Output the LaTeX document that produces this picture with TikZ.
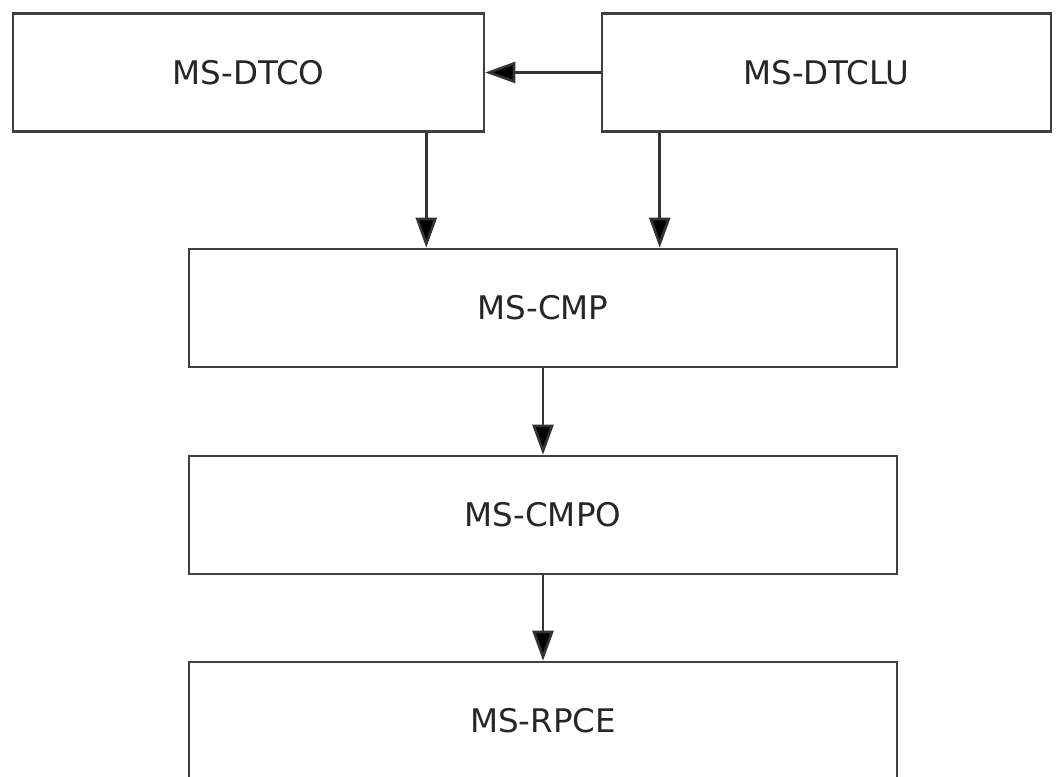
\documentclass[tikz,border=0pt]{standalone}
\usepackage{fontspec}
\setmainfont{DejaVu Sans}
\usetikzlibrary{arrows.meta}

\tikzset{
	proto/.style = {draw = black!75, line width = 1.5pt, fill = white, minimum height = 2.36cm, text = black!85, font = \fontsize{18.5}{22}\selectfont},
	dep/.style = {draw = black!80, line width = 1.5pt, -{Triangle[length = .6cm, width = .42cm, fill = black]}}
}

\begin{document}
\begin{tikzpicture}[x = .02cm, y = -.02cm]
	\useasboundingbox (0,0) rectangle (1063,777);
	\clip (0,0) rectangle (1063,777);
	\node[proto, minimum width = 9.42cm] (dtco) at (248.5,72.5) {MS-DTCO};
	\node[proto, minimum width = 8.98cm] (dtclu) at (826.5,72.5) {MS-DTCLU};
	\node[proto, minimum width = 14.16cm] (cmp) at (543,308) {MS-CMP};
	\node[proto, minimum width = 14.16cm] (cmpo) at (543,515) {MS-CMPO};
	\node[proto, minimum width = 14.16cm] (rpce) at (543,721) {MS-RPCE};
	\coordinate (dtcodown) at ([xshift = -1.18cm]dtco.south east);
	\coordinate (dtcludown) at ([xshift = 1.18cm]dtclu.south west);
	\draw[dep] (dtclu.west) -- (dtco.east);
	\draw[dep] (dtcodown) -- (dtcodown |- cmp.north);
	\draw[dep] (dtcludown) -- (dtcludown |- cmp.north);
	\draw[dep] (cmp) -- (cmpo);
	\draw[dep] (cmpo) -- (rpce);
\end{tikzpicture}
\end{document}
